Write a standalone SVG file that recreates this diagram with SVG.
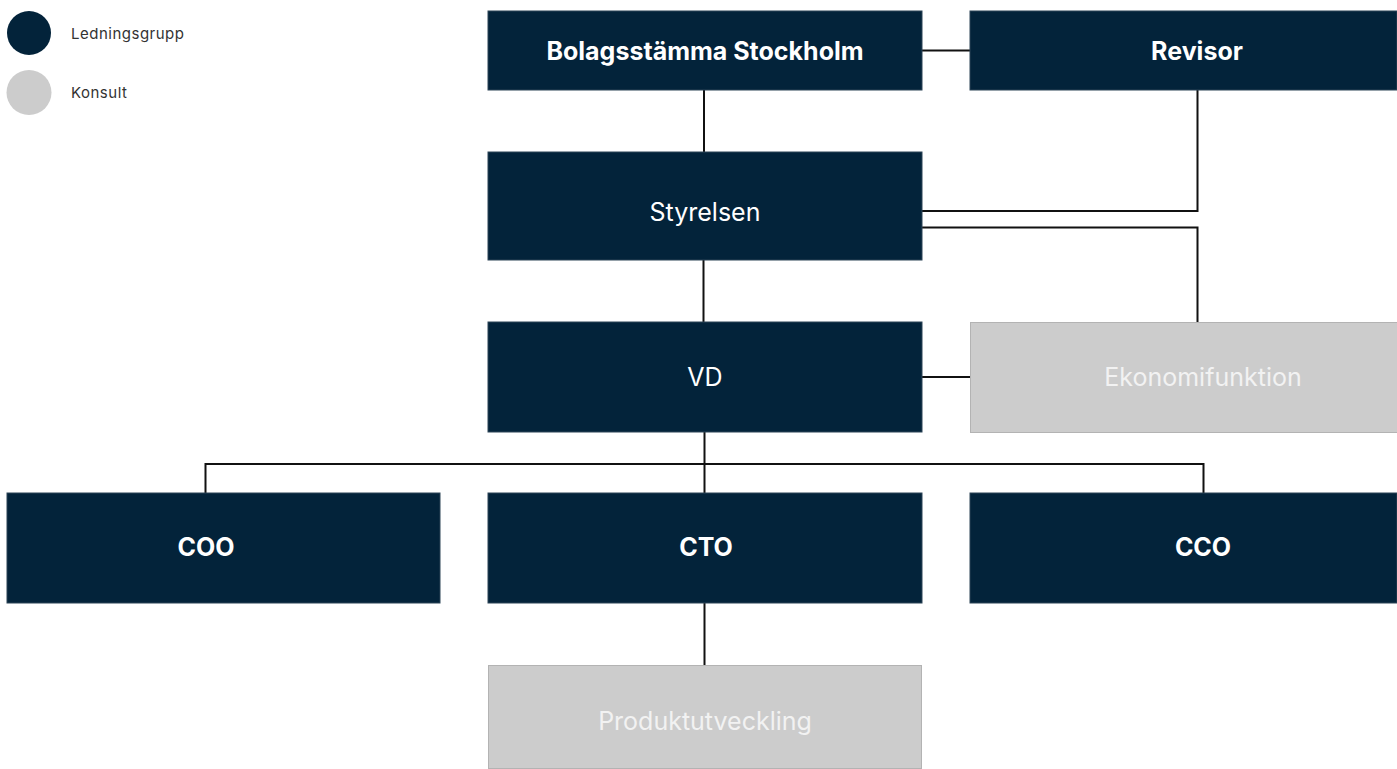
<svg xmlns="http://www.w3.org/2000/svg" width="1397" height="769" viewBox="0 0 1397 769">
<style>
.dark{fill:#03233a;stroke:#2c4457;stroke-width:1}
.grey{fill:#cccccc;stroke:#b3b3b3;stroke-width:1}
.t{font-family:Inter,"Noto Sans","Liberation Sans",sans-serif;font-size:25px;text-anchor:middle}
.b{font-weight:700}
.w{fill:#ffffff}
.gw{fill:#f2f2f2}
.conn{fill:none;stroke:#111111;stroke-width:2}
.leg{font-family:Inter,"Noto Sans","Liberation Sans",sans-serif;font-size:15px;letter-spacing:0.5px;fill:#333333}
</style>
<rect width="1397" height="769" fill="#ffffff"/>
<g id="legend">
<circle cx="29" cy="33" r="22" fill="#03233a"/>
<text class="leg" x="71" y="38.5">Ledningsgrupp</text>
<circle cx="29" cy="92.5" r="22.5" fill="#cccccc"/>
<text class="leg" x="71" y="97.5">Konsult</text>
</g>
<g id="connectors">
<line class="conn" x1="922" y1="50.5" x2="970" y2="50.5"/>
<line class="conn" x1="704" y1="90" x2="704" y2="152"/>
<polyline class="conn" points="1197.5,90 1197.5,211 922,211"/>
<polyline class="conn" points="922,227.5 1197.5,227.5 1197.5,322"/>
<line class="conn" x1="703.5" y1="260" x2="703.5" y2="322"/>
<line class="conn" x1="922" y1="377" x2="970" y2="377"/>
<line class="conn" x1="704.5" y1="432" x2="704.5" y2="493"/>
<polyline class="conn" points="205.5,493 205.5,464 1203.5,464 1203.5,493"/>
<line class="conn" x1="704.5" y1="603" x2="704.5" y2="665"/>
</g>
<g id="bolagsstamma">
<rect class="dark" x="488" y="11" width="434" height="79"/>
<text class="t b w" x="705" y="59.5">Bolagsstämma Stockholm</text>
</g>
<g id="revisor">
<rect class="dark" x="970" y="11" width="427" height="79"/>
<text class="t b w" x="1197" y="59.5">Revisor</text>
</g>
<g id="styrelsen">
<rect class="dark" x="488" y="152" width="434" height="108"/>
<text class="t w" x="705" y="221">Styrelsen</text>
</g>
<g id="vd">
<rect class="dark" x="488" y="322" width="434" height="110"/>
<text class="t w" x="705" y="386">VD</text>
</g>
<g id="ekonomifunktion">
<rect class="grey" x="970.5" y="322.5" width="427" height="110"/>
<text class="t gw" x="1203" y="386">Ekonomifunktion</text>
</g>
<g id="coo">
<rect class="dark" x="7" y="493" width="433" height="110"/>
<text class="t b w" x="206" y="556">COO</text>
</g>
<g id="cto">
<rect class="dark" x="488" y="493" width="434" height="110"/>
<text class="t b w" x="706" y="556">CTO</text>
</g>
<g id="cco">
<rect class="dark" x="970" y="493" width="427" height="110"/>
<text class="t b w" x="1203" y="556">CCO</text>
</g>
<g id="produktutveckling">
<rect class="grey" x="488.5" y="665.5" width="433" height="103"/>
<text class="t gw" x="705" y="730">Produktutveckling</text>
</g>
</svg>
